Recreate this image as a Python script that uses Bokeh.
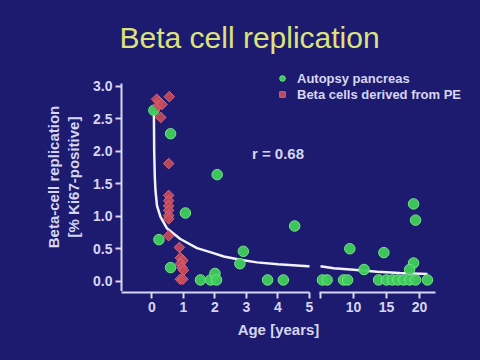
import numpy as np
from bokeh.plotting import figure
from bokeh.layouts import column, row
from bokeh.models import (Range1d, LinearAxis, FixedTicker, PrintfTickFormatter,
                          Legend, LegendItem, Label)
from bokeh.core.properties import value
from bokeh.embed import file_html
from bokeh.resources import INLINE

# ---------------- data ----------------
autopsy_age = [0.06, 0.59, 2.07, 1.06, 0.22, 4.53, 2.90, 2.79, 0.59, 1.54, 1.86, 2.00,
               2.05, 3.67, 4.17,
               19.1, 19.4, 9.44, 14.6, 11.6, 19.1, 18.5,
               5.3, 6.0, 8.5, 9.1, 13.8, 15.0, 15.9, 16.7, 17.6, 18.5, 19.4, 21.2]
autopsy_rep = [2.63, 2.27, 1.64, 1.05, 0.64, 0.85, 0.46, 0.27, 0.21, 0.02, 0.02, 0.12,
               0.02, 0.02, 0.02,
               1.19, 0.94, 0.50, 0.44, 0.18, 0.28, 0.18,
               0.02, 0.02, 0.02, 0.02, 0.02, 0.02, 0.02, 0.02, 0.02, 0.02, 0.02, 0.02]

pe_age = [0.15, 0.22, 0.20, 0.32, 0.55, 0.28, 0.53,
          0.53, 0.53, 0.53, 0.53, 0.53, 0.53, 0.53, 0.87,
          0.90, 0.98, 0.90, 0.95, 1.00, 0.90, 0.98]
pe_rep = [2.80, 2.76, 2.70, 2.72, 2.84, 2.52, 1.81,
          1.32, 1.24, 1.16, 1.09, 1.01, 0.96, 0.70, 0.52,
          0.36, 0.32, 0.27, 0.21, 0.17, 0.03, 0.03]

fit_age = [0.06, 0.07, 0.09, 0.11, 0.16, 0.27, 0.48, 0.90, 1.43, 1.90, 2.28, 2.80, 3.33,
           4.00, 4.96, 5.0, 7.0, 10.0, 13.6, 17.0, 21.2]
fit_rep = [2.62, 2.00, 1.60, 1.40, 1.16, 0.99, 0.81, 0.65, 0.51, 0.44, 0.38, 0.33, 0.29,
           0.26, 0.23, 0.23, 0.20, 0.175, 0.145, 0.125, 0.11]

y_ticks = [0.0, 0.5, 1.0, 1.5, 2.0, 2.5, 3.0]
x_ticks_left = [0, 1, 2, 3, 4, 5]
x_ticks_right = [5, 10, 15, 20]
BREAK = 5.0

title_text = "Beta cell replication"
r_text = "r = 0.68"
x_title = "Age [years]"
y_title = "Beta-cell replication\n[% Ki67-positive]"
series_names = ["Autopsy pancreas", "Beta cells derived from PE"]

# ---------------- styling ----------------
BG = "#1d1b70"
FG = "#d6d6f2"
FONT = "Liberation Sans"

a_age = np.array(autopsy_age); a_rep = np.array(autopsy_rep)
e_age = np.array(pe_age); e_rep = np.array(pe_rep)
f_age = np.array(fit_age); f_rep = np.array(fit_rep)

Y0, Y1 = -0.158, 3.365          # value range of the main frame
XL = Range1d(-0.968, 10.43)     # left (0-5 years) scale
XR = Range1d(-25.15, 29.24)     # right (5-20 years) scale, compressed


def style_axis(ax):
    ax.axis_line_color = FG
    ax.axis_line_width = 2
    ax.major_tick_line_color = FG
    ax.major_tick_line_width = 2
    ax.major_tick_out = 6
    ax.major_tick_in = 0
    ax.minor_tick_line_color = None
    ax.major_label_text_color = FG
    ax.major_label_text_font = FONT
    ax.major_label_text_font_size = "14px"
    ax.major_label_text_font_style = "bold"
    ax.axis_label_text_color = FG
    ax.axis_label_text_font = FONT
    ax.axis_label_text_font_style = "bold"


def base_fig(**kw):
    f = figure(output_backend="svg", toolbar_location=None,
               background_fill_color=None, border_fill_color=None, outline_line_color=None,
               styles={"background-color": BG}, **kw)
    f.grid.grid_line_color = None
    return f


# ---------------- main panel ----------------
p = base_fig(width=480, height=291, x_range=XL, y_range=Range1d(Y0, Y1),
             x_axis_location=None, y_axis_location=None,
             min_border_left=121, min_border_right=0, min_border_top=62, min_border_bottom=0,
             title=title_text)
p.extra_x_ranges = {"right": XR}

p.title.text_font = FONT
p.title.text_font_size = "30px"
p.title.text_font_style = "normal"
p.title.text_color = "#dde37a"
p.title.align = "left"
p.title.offset = -2
p.title.standoff = 17

yaxis = LinearAxis(ticker=FixedTicker(ticks=y_ticks), formatter=PrintfTickFormatter(format="%.1f"),
                   bounds=(Y0, 3.04), axis_label=y_title)
style_axis(yaxis)
yaxis.major_label_text_font_size = "14px"
yaxis.major_label_standoff = 3
yaxis.axis_label_standoff = 8
yaxis.axis_label_text_font_size = "15px"
p.add_layout(yaxis, "left")

lm = f_age <= BREAK
rm = f_age >= BREAK
p.line(f_age[lm], f_rep[lm], line_color="#f2f2ff", line_width=2.5)
p.line(f_age[rm], f_rep[rm], line_color="#f2f2ff", line_width=2.5, x_range_name="right")

GREEN = "#3fcd5a"
am = a_age <= BREAK
g1 = p.scatter(a_age[am], a_rep[am], marker="circle", size=10.5, fill_color=GREEN,
               line_color="#74e48a", line_width=1, fill_alpha=0.95)
p.scatter(a_age[~am], a_rep[~am], marker="circle", size=10.5, fill_color=GREEN,
          line_color="#74e48a", line_width=1, fill_alpha=0.95, x_range_name="right")

RED = "#c84a5c"
r1 = p.scatter(e_age, e_rep, marker="square", angle=np.pi / 4, size=7.5, fill_color=RED,
               line_color="#dc6676", line_width=1, fill_alpha=0.9)

legend = Legend(items=[LegendItem(label=series_names[0], renderers=[g1]),
                       LegendItem(label=series_names[1], renderers=[r1])],
                location=(154, 189), background_fill_alpha=0, border_line_color=None,
                label_text_color=FG, label_text_font=FONT, label_text_font_size="13px",
                label_text_font_style="bold", glyph_width=14, glyph_height=16,
                label_height=16, spacing=0, padding=0, margin=0, label_standoff=8)
p.add_layout(legend)

p.add_layout(Label(x=4.0, y=1.97, text=r_text, text_align="center", text_baseline="middle",
                   text_color=FG, text_font=FONT, text_font_size="15px",
                   text_font_style="bold"))

# ---------------- broken x axis: two strips sharing the baseline ----------------
s_left = base_fig(width=314, height=30, x_range=Range1d(-0.968, 5.159), y_range=Range1d(0, 1),
                  y_axis_location=None, x_axis_location=None,
                  min_border_left=121, min_border_right=0, min_border_top=0, min_border_bottom=29)
ax_l = LinearAxis(ticker=FixedTicker(ticks=x_ticks_left), bounds=(-0.968, BREAK))
style_axis(ax_l)
ax_l.major_label_standoff = 3
s_left.add_layout(ax_l, "below")

s_right = base_fig(width=166, height=30, x_range=Range1d(4.848, 29.24), y_range=Range1d(0, 1),
                   y_axis_location=None, x_axis_location=None,
                   min_border_left=5, min_border_right=0, min_border_top=0, min_border_bottom=29)
ax_r = LinearAxis(ticker=FixedTicker(ticks=x_ticks_right), bounds=(4.848, 22.4),
                  major_label_overrides={5: ""})
style_axis(ax_r)
ax_r.major_label_standoff = 3
s_right.add_layout(ax_r, "below")

# ---------------- x axis title strip ----------------
s_title = base_fig(width=480, height=39, x_range=XL, y_range=Range1d(0, 1),
                   x_axis_location=None, y_axis_location=None,
                   min_border_left=121, min_border_right=0, min_border_top=0, min_border_bottom=0)
s_title.text(x=[4.016], y=[0.79], text=[x_title], text_align="center", text_baseline="middle",
             text_color=FG, text_font=value(FONT), text_font_size="15px",
             text_font_style="bold")

layout = column(p, row(s_left, s_right, spacing=0, styles={"background-color": BG}),
                s_title, spacing=0, styles={"background-color": BG})

open("out.html", "w").write(file_html(layout, INLINE))
